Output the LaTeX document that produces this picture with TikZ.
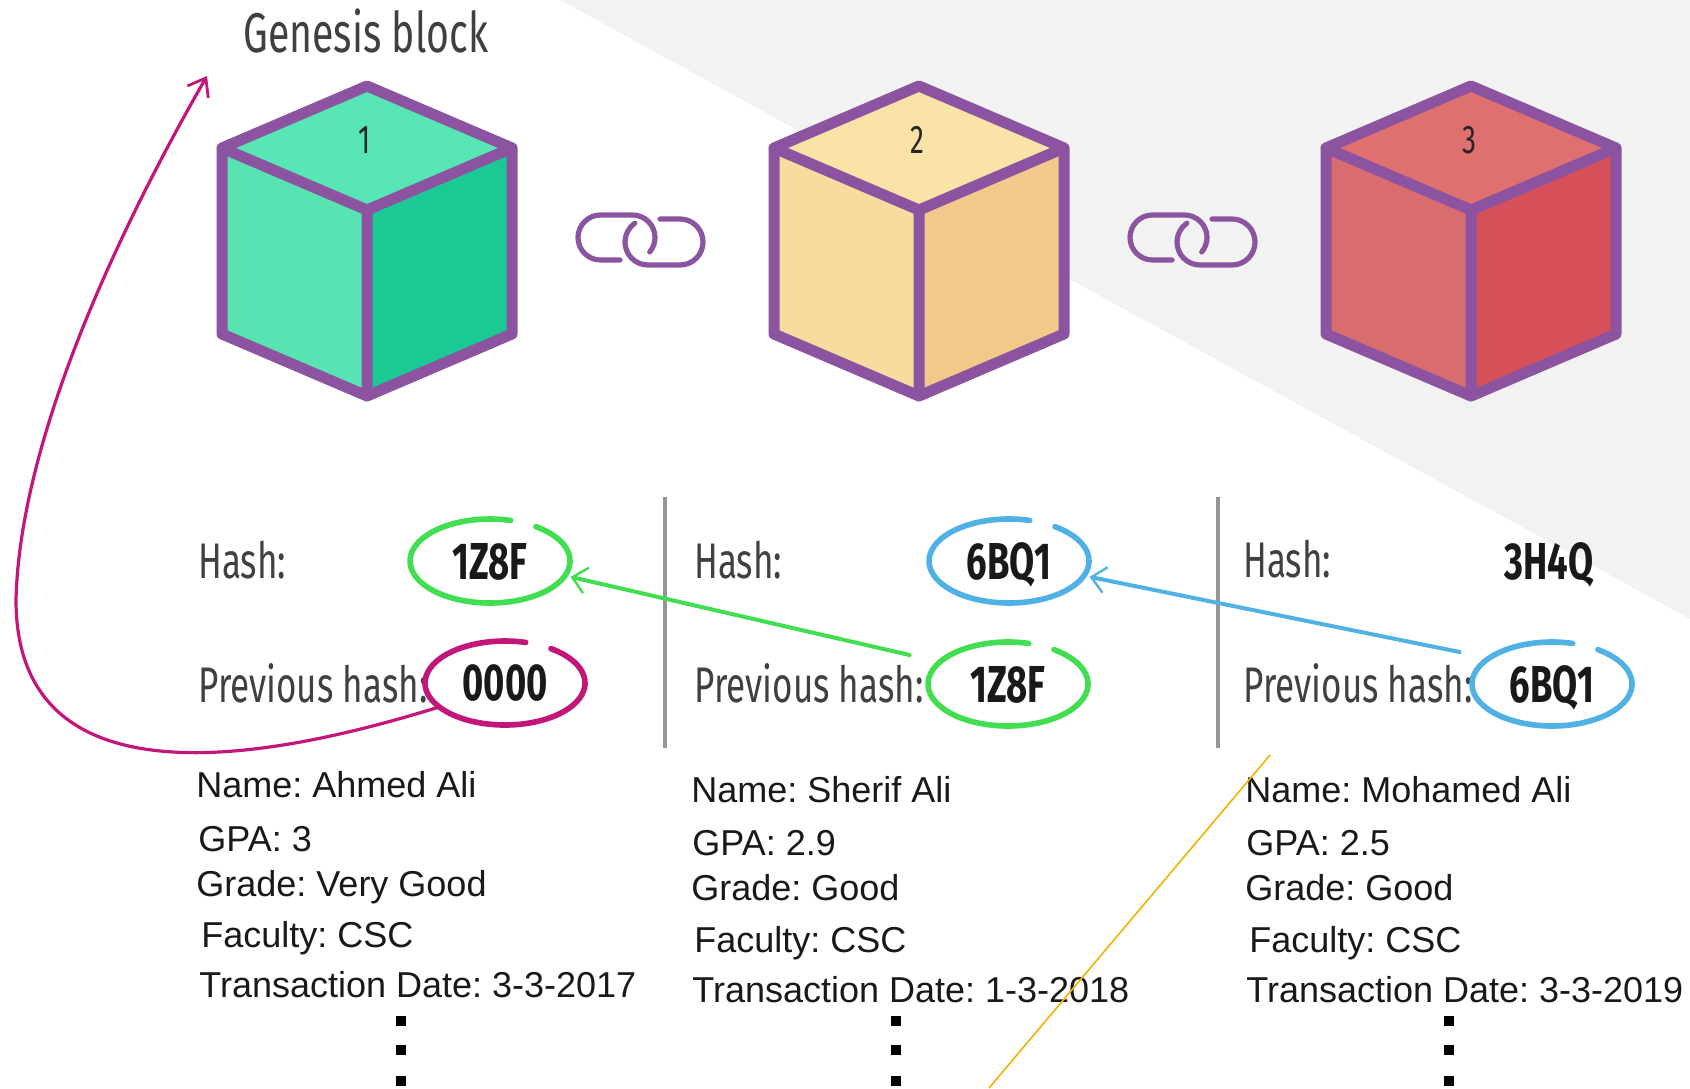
\documentclass[tikz,border=0pt]{standalone}
\usepackage{fontspec}
\setmainfont{Liberation Sans}
\newfontfamily\condfont[FakeStretch=0.7]{Fira Sans}
\usepackage{xcolor}
\usetikzlibrary{arrows.meta,shapes.geometric}
\frenchspacing

\definecolor{cubeline}{RGB}{140,84,160}
\definecolor{cubeAtop}{RGB}{88,230,182}
\definecolor{cubeAleft}{RGB}{87,228,178}
\definecolor{cubeAright}{RGB}{26,201,148}
\definecolor{cubeBtop}{RGB}{249,227,166}
\definecolor{cubeBleft}{RGB}{246,220,158}
\definecolor{cubeBright}{RGB}{242,201,138}
\definecolor{cubeCtop}{RGB}{222,112,112}
\definecolor{cubeCleft}{RGB}{216,108,110}
\definecolor{cubeCright}{RGB}{214,80,90}
\definecolor{ringgreen}{RGB}{64,222,80}
\definecolor{ringblue}{RGB}{80,178,228}
\definecolor{ringmagenta}{RGB}{194,22,122}
\definecolor{sepgray}{RGB}{150,150,150}
\definecolor{bggray}{RGB}{242,242,242}
\definecolor{labelgray}{RGB}{64,64,64}
\definecolor{strayorange}{RGB}{240,180,0}

% hand drawn ring round a hash node, open at the upper right
\newcommand{\hashring}[2]{%
  \draw[ring, #2] ([shift={(75:40pt and 21pt)}]#1.center)
    arc[start angle=75, end angle=415, x radius=40pt, y radius=21pt];}

\begin{document}
\begin{tikzpicture}[x=0.5pt, y=-0.5pt,
    cubeedge/.style={draw=cubeline, line width=5.5pt, line join=round, line cap=round},
    chain/.style={draw=cubeline, line width=2.6pt, line cap=round},
    cubenum/.style={font=\condfont\fontsize{20}{24}\selectfont, text=black!85, inner sep=0pt},
    hashlabel/.style={anchor=base west, inner sep=0pt, font=\condfont\fontsize{25}{30}\selectfont, text=labelgray},
    hashval/.style={ellipse, minimum width=80pt, minimum height=42pt, inner sep=0pt, text depth=0pt,
        font=\condfont\bfseries\fontsize{26}{30}\selectfont, text=black!90},
    datatext/.style={anchor=base west, inner sep=0pt, font=\fontsize{18}{21}\selectfont, text=black!90},
    ring/.style={line width=2.8pt, line cap=round},
    linkarrow/.style={line width=2pt, line cap=round, -{Straight Barb[length=7pt, width=13pt, line width=1.2pt]}},
    sepline/.style={draw=sepgray, line width=1.6pt},
]
    \useasboundingbox (0,0) rectangle (1690,1088);
    \fill[white] (0,0) rectangle (1690,1088);

    % Grey band behind the right side
    \fill[bggray] (560,0) -- (1690,0) -- (1690,619) -- cycle;

    % Three blocks as cubes
    \foreach \cx/\ctop/\cleft/\cright/\num in {367/cubeAtop/cubeAleft/cubeAright/1,
                                               919/cubeBtop/cubeBleft/cubeBright/2,
                                               1471/cubeCtop/cubeCleft/cubeCright/3}{
        \fill[\ctop] (\cx,86) -- (\cx+145,148) -- (\cx,210) -- (\cx-145,148) -- cycle;
        \fill[\cleft] (\cx-145,148) -- (\cx,210) -- (\cx,396) -- (\cx-145,334) -- cycle;
        \fill[\cright] (\cx,210) -- (\cx+145,148) -- (\cx+145,334) -- (\cx,396) -- cycle;
        \draw[cubeedge] (\cx,86) -- (\cx+145,148) -- (\cx+145,334) -- (\cx,396)
            -- (\cx-145,334) -- (\cx-145,148) -- cycle;
        \draw[cubeedge] (\cx-145,148) -- (\cx,210) -- (\cx+145,148) (\cx,210) -- (\cx,396);
        \node[cubenum] (num\num) at (\cx-2,140) {\num};
    }

    % Chain links between the blocks
    \foreach \lx in {0,552}{
        \begin{scope}[shift={(\lx,0)}]
            \draw[chain] (620,260) -- (600.5,260) arc[start angle=270, end angle=90, radius=11.25pt]
                -- (632.5,215) arc[start angle=90, end angle=-40, radius=11.25pt];
            \draw[chain] (660,219) -- (680,219) arc[start angle=90, end angle=-90, radius=11.5pt]
                -- (648,265) arc[start angle=270, end angle=125, radius=11.5pt];
        \end{scope}
    }

    % Genesis label
    \node[anchor=base west, inner sep=0pt, font=\condfont\fontsize{28}{32}\selectfont, text=labelgray]
        (genesis) at (243,52) {Genesis block};
    \coordinate (genesistip) at (207,76);

    % Column separators
    \draw[sepline] (665,497) -- (665,748);
    \draw[sepline] (1218,497) -- (1218,748);

    % Hash rows
    \node[hashlabel] (hlab1) at (198,578) {Hash:};
    \node[hashlabel] (plab1) at (198,702) {Previous hash:};
    \node[hashlabel] (hlab2) at (694,578) {Hash:};
    \node[hashlabel] (plab2) at (694,702) {Previous hash:};
    \node[hashlabel] (hlab3) at (1243,577) {Hash:};
    \node[hashlabel] (plab3) at (1243,702) {Previous hash:};

    \node[hashval] (h1) at (490,561) {1Z8F};
    \node[hashval] (p1) at (505,683) {0000};
    \node[hashval] (h2) at (1009,561) {6BQ1};
    \node[hashval] (p2) at (1008,684) {1Z8F};
    \node[hashval] (h3) at (1549,561) {3H4Q};
    \node[hashval] (p3) at (1552,684) {6BQ1};

    \hashring{h1}{ringgreen}
    \hashring{p1}{ringmagenta}
    \hashring{h2}{ringblue}
    \hashring{p2}{ringgreen}
    \hashring{p3}{ringblue}

    % Links from previous hash to the hash of the block before
    \draw[linkarrow, ringgreen] ([shift={(-18,-29)}]p2.west) -- ([xshift=3pt]h1.-12);
    \draw[linkarrow, ringblue] ([shift={(-12,-32)}]p3.west) -- ([xshift=3pt]h2.-12);
    \draw[ringmagenta, line width=1.6pt, line cap=round, -{Straight Barb[length=8pt, width=12pt, line width=1.4pt]}]
        (p1.200) .. controls (300,750) and (16,820) .. (16,600)
        .. controls (20,430) and (130,210) .. (genesistip);

    % Block data
    \node[datatext] (name1) at (196,797) {Name: Ahmed Ali};
    \node[datatext] (gpa1) at (198,851) {GPA: 3};
    \node[datatext] (grade1) at (196,896) {Grade: Very Good};
    \node[datatext] (fac1) at (201,947) {Faculty: CSC};
    \node[datatext] (date1) at (199,997) {Transaction Date: 3-3-2017};

    \node[datatext] (name2) at (691,802) {Name: Sherif Ali};
    \node[datatext] (gpa2) at (692,855) {GPA: 2.9};
    \node[datatext] (grade2) at (691,900) {Grade: Good};
    \node[datatext] (fac2) at (694,952) {Faculty: CSC};
    \node[datatext] (date2) at (692,1002) {Transaction Date: 1-3-2018};

    \node[datatext] (name3) at (1245,802) {Name: Mohamed Ali};
    \node[datatext] (gpa3) at (1246,855) {GPA: 2.5};
    \node[datatext] (grade3) at (1245,900) {Grade: Good};
    \node[datatext] (fac3) at (1249,952) {Faculty: CSC};
    \node[datatext] (date3) at (1246,1002) {Transaction Date: 3-3-2019};

    % Continuation dots
    \foreach \dx in {401,896,1449}
        \foreach \dy in {1021,1050,1081}
            \fill[black] (\dx-5,\dy-5) rectangle (\dx+5,\dy+5);

    % Stray line
    \coordinate (strayA) at (1270,755);
    \coordinate (strayB) at (989,1088);
    \draw[strayorange, line width=0.8pt] (strayA) -- (strayB);
\end{tikzpicture}
\end{document}
